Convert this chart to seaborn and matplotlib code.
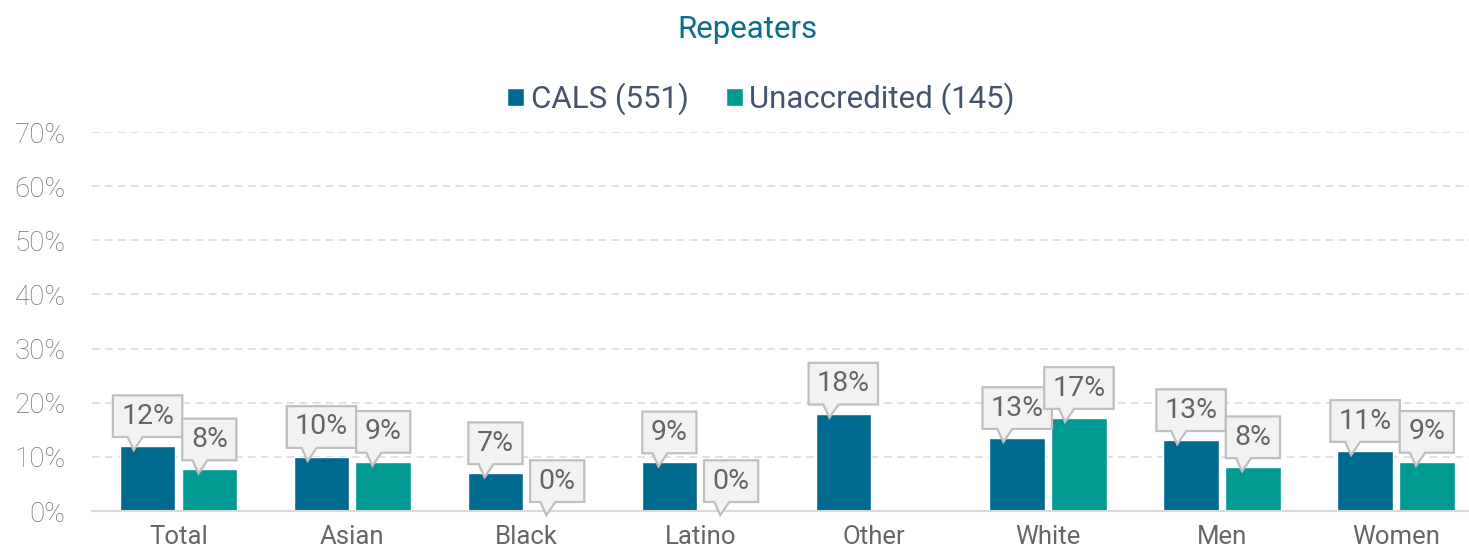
import numpy as np
import pandas as pd
import matplotlib
matplotlib.use("Agg")
import matplotlib.pyplot as plt
import matplotlib.transforms as mtransforms
from matplotlib.patches import Polygon
import seaborn as sns

# ---- data ----
categories = ["Total", "Asian", "Black", "Latino", "Other", "White", "Men", "Women"]
series = ["CALS (551)", "Unaccredited (145)"]
cals_values = [12.0, 10.0, 7.0, 9.0, 18.0, 13.5, 13.1, 11.1]
unacc_values = [7.7, 9.1, 0.0, 0.0, np.nan, 17.2, 8.1, 9.1]
cals_labels = ["12%", "10%", "7%", "9%", "18%", "13%", "13%", "11%"]
unacc_labels = ["8%", "9%", "0%", "0%", "", "17%", "8%", "9%"]
y_ticks = [0, 10, 20, 30, 40, 50, 60, 70]
y_tick_labels = [f"{t}%" for t in y_ticks]
title = "Repeaters"
colors = ["#006A8E", "#009A93"]

sns.set_theme(style="white")
plt.rcParams["font.family"] = ["Roboto", "DejaVu Sans"]

W, H = 1469, 556
fig = plt.figure(figsize=(W / 100, H / 100), dpi=100)
ax = fig.add_axes([92 / W, 45 / H, 1377 / W, 379 / H])

df = pd.DataFrame({
    "category": categories * 2,
    "series": [series[0]] * len(categories) + [series[1]] * len(categories),
    "value": cals_values + unacc_values,
})

sns.barplot(data=df, x="category", y="value", hue="series", order=categories,
            hue_order=series, palette=colors, width=0.71, gap=0.1,
            saturation=1, errorbar=None, ax=ax, zorder=2)

handles, labels = ax.get_legend_handles_labels()
if ax.get_legend() is not None:
    ax.get_legend().remove()

ax.set_xlim(-0.497, 7.42)
ax.set_ylim(0, 70)
ax.set_yticks(y_ticks)
ax.set_yticklabels(y_tick_labels)
ax.set_xlabel("")
ax.set_ylabel("")
ax.yaxis.grid(True, color="#d9d9d9", linestyle=(0, (5, 3.5)), linewidth=1.1)
ax.set_axisbelow(True)
for s in ["top", "right", "left"]:
    ax.spines[s].set_visible(False)
ax.spines["bottom"].set_color("#d9d9d9")
ax.spines["bottom"].set_linewidth(1.5)
ax.tick_params(axis="y", length=0, pad=19, labelsize=20, labelcolor="#747474")
ax.tick_params(axis="x", length=0, pad=10, labelsize=18.5, labelcolor="#666666")
for lab in ax.get_yticklabels():
    lab.set_fontweight("light")

# ---- callouts ----
def callout(x, y, text):
    w = 39 if len(text) <= 2 else 50   # points
    hbox = 30
    b = 6.5
    tx = -0.2 * w
    verts = [(-w / 2, b), (tx - 4.3, b), (tx, -3), (tx + 6.5, b), (w / 2, b),
             (w / 2, b + hbox), (-w / 2, b + hbox)]
    trans = mtransforms.Affine2D().scale(fig.dpi / 72.0) + \
        mtransforms.ScaledTranslation(x, y, ax.transData)
    poly = Polygon(verts, closed=True, transform=trans, facecolor="#f2f2f2",
                   edgecolor="#bfbfbf", linewidth=1.6, zorder=4, clip_on=False)
    ax.add_patch(poly)
    ax.annotate(text, (x, y), xytext=(0, b + hbox / 2), textcoords="offset points",
                ha="center", va="center", fontsize=20.5, color="#656565", zorder=5)

for ci, cont in enumerate(ax.containers):
    labs = cals_labels if ci == 0 else unacc_labels
    for bar in cont:
        h = bar.get_height()
        if h is None or np.isnan(h):
            continue
        xc = bar.get_x() + bar.get_width() / 2
        idx = int(round(xc))
        if idx < 0 or idx >= len(labs) or not labs[idx]:
            continue
        callout(xc, h, labs[idx])

fig.text(747 / W, 1 - 30 / H, title, ha="center", va="center",
         fontsize=22.5, color="#0B6E8F")
fig.legend(handles, labels, loc="center", bbox_to_anchor=(761 / W, 1 - 99 / H),
           ncol=2, frameon=False, fontsize=22.5, handlelength=0.55,
           handleheight=0.55, handletextpad=0.2, columnspacing=1.2,
           labelcolor="#44546A")

fig.savefig("out.png", dpi=100)
